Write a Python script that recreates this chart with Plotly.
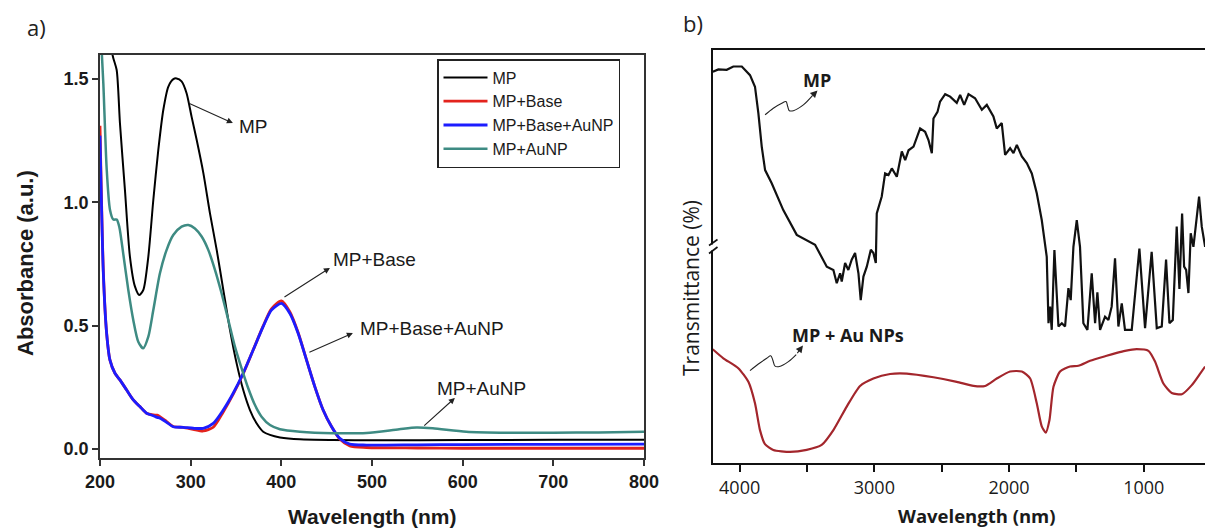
import plotly.graph_objects as go

W, H = 1205, 528

# ---------------- Panel a) UV-Vis absorbance ----------------
legend_names = ["MP", "MP+Base", "MP+Base+AuNP", "MP+AuNP"]
uv_colors = ["#000000", "#e3231d", "#1c1cff", "#3e8b83"]

wl_mp = [200, 208, 214.7, 218.4, 222, 227.5, 233, 238.6, 243.4, 247.8, 253.3, 258.8, 264.3,
         269.8, 275.4, 280.9, 284.5, 290, 295.5, 301, 306.6, 314, 321.3, 328.7, 336, 343.4,
         350.7, 358, 365.4, 372.7, 380, 387.5, 398.5, 420.5, 457, 500, 600, 700, 800]
abs_mp = [1.75, 1.68, 1.584, 1.536, 1.32, 1.05, 0.78, 0.658, 0.624, 0.645, 0.78, 1.009, 1.212,
          1.374, 1.469, 1.499, 1.502, 1.49, 1.442, 1.347, 1.253, 1.118, 0.955, 0.807, 0.645, 0.482,
          0.347, 0.239, 0.158, 0.104, 0.070, 0.057, 0.047, 0.039, 0.036, 0.035, 0.036, 0.037, 0.037]

wl_base = [200, 203.7, 207.3, 211, 216.5, 222, 229.4, 236.7, 244, 251.4, 258.8, 263, 266.1,
           273.5, 280.8, 291.8, 302.8, 313.9, 324.9, 335.9, 346.9, 357.9, 368.9, 379.9, 389.1,
           400.1, 409.3, 418.5, 427.7, 436.9, 446.1, 455.3, 464.5, 475.5, 494, 550, 600, 700, 800]
abs_base = [1.31, 0.72, 0.47, 0.36, 0.307, 0.28, 0.239, 0.199, 0.172, 0.145, 0.138, 0.137, 0.131,
            0.111, 0.091, 0.088, 0.080, 0.073, 0.088, 0.150, 0.222, 0.305, 0.401, 0.498, 0.568,
            0.600, 0.556, 0.472, 0.362, 0.253, 0.158, 0.091, 0.040, 0.012, 0.006, 0.004, 0.003, 0.003, 0.003]
abs_base_au = [1.27, 0.71, 0.47, 0.36, 0.307, 0.28, 0.239, 0.199, 0.172, 0.145, 0.135, 0.128, 0.125,
               0.108, 0.090, 0.088, 0.084, 0.084, 0.104, 0.158, 0.226, 0.307, 0.401, 0.496, 0.563,
               0.590, 0.550, 0.469, 0.361, 0.253, 0.158, 0.091, 0.043, 0.020, 0.016, 0.017, 0.018, 0.019, 0.020]

wl_au = [200, 203.7, 207.3, 211, 214.7, 218.4, 221.3, 225.7, 231.2, 236.7, 242.2, 247.7, 253.3,
         258.8, 266.1, 273.5, 280.8, 290, 297.4, 304.7, 312.1, 319.4, 326.8, 334.1, 341.5, 348.8,
         356.2, 363.5, 370.9, 378.2, 387.5, 398.5, 420.5, 457, 494, 530, 549, 567, 604, 650, 700, 750, 800]
abs_au = [1.75, 1.48, 1.14, 0.97, 0.93, 0.93, 0.90, 0.79, 0.645, 0.523, 0.435, 0.408, 0.455,
          0.563, 0.712, 0.807, 0.867, 0.901, 0.908, 0.894, 0.861, 0.807, 0.726, 0.631, 0.523, 0.415,
          0.327, 0.246, 0.178, 0.131, 0.097, 0.080, 0.070, 0.064, 0.065, 0.080, 0.087, 0.084, 0.070,
          0.066, 0.066, 0.067, 0.070]

uv_x_ticks = [200, 300, 400, 500, 600, 700, 800]
uv_y_ticks = [0.0, 0.5, 1.0, 1.5]

# callouts in panel a: (label, text x, text y, arrow tail x, tail y, head x, head y)
uv_callouts = [
    ("MP", 369.8, 1.309, 297, 1.403, 346.6, 1.321),
    ("MP+Base", 503, 0.766, 401.8, 0.612, 453.6, 0.734),
    ("MP+Base+AuNP", 566, 0.490, 429.3, 0.389, 478.9, 0.470),
    ("MP+AuNP", 621, 0.247, 556, 0.089, 591.4, 0.207),
]

# ---------------- Panel b) FTIR transmittance ----------------
ir_wn_mp = [4199, 4158, 4096, 4047, 3984, 3923, 3886, 3861, 3836, 3811, 3762, 3676, 3576, 3502,
            3440, 3353, 3304, 3279, 3254, 3242, 3217, 3193, 3168, 3143, 3118, 3101, 3081, 3056,
            3026, 3007, 2989, 2982, 2945, 2920, 2895, 2870, 2833, 2796, 2771, 2746, 2709, 2660,
            2623, 2598, 2573, 2561, 2531, 2512, 2474, 2437, 2388, 2363, 2333, 2301, 2252, 2202,
            2165, 2116, 2091, 2054, 2029, 1992, 1967, 1942, 1905, 1868, 1831, 1794, 1757, 1720,
            1707, 1695, 1683, 1663, 1633, 1608, 1584, 1559, 1542, 1522, 1497, 1473, 1448, 1418,
            1386, 1361, 1344, 1324, 1287, 1262, 1238, 1213, 1188, 1163, 1139, 1089, 1032, 990,
            941, 903, 866, 834, 809, 784, 755, 735, 715, 700, 685, 668, 651, 631, 606, 589, 569, 544]
ir_t_mp = [94.7, 95.3, 95.2, 96.0, 96.0, 93.9, 91.1, 84.7, 76.6, 70.9, 67.7, 61.2, 55.2, 54.0,
           52.8, 47.5, 46.7, 43.5, 45.9, 43.9, 48.4, 46.7, 49.2, 50.8, 45.9, 39.4, 45.1, 47.5,
           51.6, 50.8, 48.4, 60.4, 64.5, 70.1, 69.7, 71.3, 69.3, 75.4, 73.3, 75.7, 76.6, 81.0,
           80.2, 78.2, 75.0, 83.4, 85.0, 87.5, 89.3, 88.7, 87.2, 89.1, 86.7, 89.3, 88.3, 85.5,
           86.7, 83.9, 81.0, 82.3, 74.6, 76.2, 75.0, 77.0, 74.2, 72.6, 70.1, 65.3, 58.8, 49.9,
           33.8, 37.8, 32.2, 51.5, 33.0, 33.8, 33.0, 42.3, 39.4, 52.3, 58.8, 52.3, 33.8, 32.2,
           45.9, 33.8, 41.3, 32.2, 35.4, 34.6, 37.8, 49.5, 33.0, 38.6, 32.2, 32.2, 51.9, 32.6,
           51.1, 32.6, 33.0, 49.2, 33.8, 34.6, 57.2, 42.1, 60.4, 47.5, 46.7, 41.1, 55.6, 52.3,
           60.4, 64.5, 57.2, 52.3]

ir_wn_au = [4200, 4121, 4010, 3935, 3886, 3849, 3812, 3750, 3626, 3502, 3391, 3304, 3205, 3106,
            3007, 2883, 2759, 2561, 2388, 2264, 2177, 2091, 1992, 1905, 1843, 1794, 1757, 1727,
            1700, 1670, 1621, 1547, 1485, 1398, 1275, 1200, 1139, 1052, 965, 916, 854, 792, 717,
            643, 581, 544]
ir_t_au = [27.5, 25.3, 22.9, 19.6, 14.4, 7.9, 4.5, 3.1, 2.6, 3.1, 4.3, 7.9, 13.6, 18.6,
           20.4, 21.5, 21.6, 20.7, 19.6, 18.6, 18.6, 20.4, 22.1, 22.1, 20.4, 14.4, 8.8, 7.3,
           10.3, 18.4, 22.1, 23.3, 23.5, 24.7, 25.9, 26.6, 27.1, 27.5, 27.1, 24.5, 19.2, 16.9, 16.6,
           18.8, 21.6, 23.3]

ir_x_ticks = [4000, 3000, 2000, 1000]

# squiggly callout arrows in panel b
sq_mp_x = [3811, 3750, 3687, 3656, 3643, 3631, 3601, 3527, 3458]
sq_mp_y = [84.3, 85.9, 87.1, 87.5, 86.3, 85.3, 85.3, 86.7, 89.0]
sq_mp_head = (3422, 90.2)
sq_mp_label = ("MP", 3425, 92.7)

sq_au_x = [3923, 3861, 3799, 3769, 3754, 3737, 3705, 3638, 3580]
sq_au_y = [22.3, 23.9, 25.3, 25.9, 24.9, 23.4, 23.3, 24.5, 26.2]
sq_au_head = (3530, 28.4)
sq_au_label = ("MP + Au NPs", 3196, 30.9)

# ---------------- Figure ----------------
def px(x):
    return x / W

def py(y):
    return 1 - y / H

fig = go.Figure()

uv_series = [(wl_mp, abs_mp, 2.0), (wl_base, abs_base, 2.8), (wl_base, abs_base_au, 2.8), (wl_au, abs_au, 2.5)]
for (xs, ys, lw), name, col in zip(uv_series, legend_names, uv_colors):
    fig.add_trace(go.Scatter(x=xs, y=ys, name=name, mode="lines",
                             line=dict(color=col, width=lw, shape="spline", smoothing=0.7),
                             xaxis="x", yaxis="y"))

fig.add_trace(go.Scatter(x=ir_wn_mp, y=ir_t_mp, mode="lines", showlegend=False,
                         line=dict(color="#111111", width=2.2), xaxis="x2", yaxis="y2"))
fig.add_trace(go.Scatter(x=ir_wn_au, y=ir_t_au, mode="lines", showlegend=False,
                         line=dict(color="#a3262c", width=2.2, shape="spline", smoothing=0.6),
                         xaxis="x2", yaxis="y2"))
for sx, sy in [(sq_mp_x, sq_mp_y), (sq_au_x, sq_au_y)]:
    fig.add_trace(go.Scatter(x=sx, y=sy, mode="lines", showlegend=False, hoverinfo="skip",
                             line=dict(color="#222222", width=1.1, shape="spline", smoothing=1.0),
                             xaxis="x2", yaxis="y2"))

annotations = []
arial = "Arial, Liberation Sans, sans-serif"
opens = "Open Sans, Noto Sans, sans-serif"

for label, tx, ty, ax_, ay_, hx, hy in uv_callouts:
    annotations.append(dict(x=hx, y=hy, ax=ax_, ay=ay_, xref="x", yref="y", axref="x", ayref="y",
                            text="", showarrow=True, arrowhead=2, arrowsize=1.1, arrowwidth=1.1,
                            arrowcolor="#222222"))
    annotations.append(dict(x=tx, y=ty, xref="x", yref="y", text=label, showarrow=False,
                            font=dict(family=arial, size=19, color="#1a1a1a"),
                            xanchor="center", yanchor="middle"))

for sx, sy, head, lab in [(sq_mp_x, sq_mp_y, sq_mp_head, sq_mp_label),
                          (sq_au_x, sq_au_y, sq_au_head, sq_au_label)]:
    annotations.append(dict(x=head[0], y=head[1], ax=sx[-1], ay=sy[-1], xref="x2", yref="y2",
                            axref="x2", ayref="y2", text="", showarrow=True, arrowhead=2,
                            arrowsize=1.3, arrowwidth=1.1, arrowcolor="#222222"))
    annotations.append(dict(x=lab[1], y=lab[2], xref="x2", yref="y2", text=lab[0], showarrow=False,
                            font=dict(family=opens, size=18, color="#1a1a1a", weight="bold"),
                            xanchor="center", yanchor="middle"))

# titles and panel letters
annotations += [
    dict(x=px(372), y=py(516), xref="paper", yref="paper", text="Wavelength (nm)", showarrow=False,
         font=dict(family=arial, size=21, color="#1a1a1a", weight="bold"), xanchor="center", yanchor="middle"),
    dict(x=px(25), y=py(263), xref="paper", yref="paper", text="Absorbance (a.u.)", showarrow=False,
         textangle=-90, font=dict(family=arial, size=22, color="#1a1a1a", weight="bold"),
         xanchor="center", yanchor="middle"),
    dict(x=px(977), y=py(515), xref="paper", yref="paper", text="Wavelength (nm)", showarrow=False,
         font=dict(family=opens, size=18.5, color="#1a1a1a", weight="bold"), xanchor="center", yanchor="middle"),
    dict(x=px(691), y=py(288), xref="paper", yref="paper", text="Transmittance (%)", showarrow=False,
         textangle=-90, font=dict(family=opens, size=21, color="#1a1a1a"),
         xanchor="center", yanchor="middle"),
    dict(x=px(36), y=py(27), xref="paper", yref="paper", text="a)", showarrow=False,
         font=dict(family=opens, size=22, color="#222222"), xanchor="center", yanchor="middle"),
    dict(x=px(693), y=py(23), xref="paper", yref="paper", text="b)", showarrow=False,
         font=dict(family=opens, size=22, color="#222222"), xanchor="center", yanchor="middle"),
]

# axis break marks on panel b's y axis
shapes = [
    dict(type="rect", xref="paper", yref="paper", x0=px(709), x1=px(717), y0=py(244.5), y1=py(250.5),
         fillcolor="white", line=dict(width=0), layer="above"),
    dict(type="line", xref="paper", yref="paper", x0=px(709), y0=py(245.5), x1=px(717.5), y1=py(239.5),
         line=dict(color="#111111", width=1.6), layer="above"),
    dict(type="line", xref="paper", yref="paper", x0=px(709), y0=py(253.5), x1=px(717.5), y1=py(247.0),
         line=dict(color="#111111", width=1.6), layer="above"),
]

fig.update_layout(
    width=W, height=H, autosize=False,
    margin=dict(l=0, r=0, t=0, b=0, autoexpand=False),
    paper_bgcolor="white", plot_bgcolor="white",
    showlegend=True,
    legend=dict(x=px(437), y=py(59), xanchor="left", yanchor="top",
                font=dict(family=arial, size=16, color="#1a1a1a"),
                bordercolor="#222222", borderwidth=1.5, bgcolor="white",
                tracegroupgap=0, itemwidth=44, entrywidth=150, entrywidthmode="pixels"),
    xaxis=dict(domain=[px(100), px(644)], range=[200, 800], tickvals=uv_x_ticks,
               ticks="outside", ticklen=6, tickwidth=1.5, tickcolor="#333333",
               showline=True, linecolor="#333333", linewidth=1.6, mirror=True,
               showgrid=False, zeroline=False, ticklabelstandoff=1, automargin=False,
               tickfont=dict(family=arial, size=18, color="#1a1a1a", weight="bold"), anchor="y"),
    yaxis=dict(domain=[py(458), py(54.7)], range=[-0.0365, 1.598], tickvals=uv_y_ticks,
               tickformat=".1f", automargin=False,
               ticks="outside", ticklen=6, tickwidth=1.5, tickcolor="#333333",
               showline=True, linecolor="#333333", linewidth=1.6, mirror=True,
               showgrid=False, zeroline=False,
               tickfont=dict(family=arial, size=18, color="#1a1a1a", weight="bold"), anchor="x"),
    xaxis2=dict(domain=[px(712.7), 1.0], range=[4200, 545], tickvals=ir_x_ticks,
                ticks="outside", ticklen=7, tickwidth=1.5, tickcolor="#111111",
                minor=dict(dtick=500, tick0=0, ticks="outside", ticklen=7, tickwidth=1.5, tickcolor="#111111"),
                showline=True, linecolor="#111111", linewidth=2, mirror=True, automargin=False,
                showgrid=False, zeroline=False, ticklabelstandoff=1,
                tickfont=dict(family=opens, size=18, color="#1a1a1a"), anchor="y2"),
    yaxis2=dict(domain=[py(462.7), py(50)], range=[0, 100], showticklabels=False, ticks="",
                showline=True, linecolor="#111111", linewidth=2, mirror=False, automargin=False,
                showgrid=False, zeroline=False, anchor="x2"),
    annotations=annotations,
    shapes=shapes,
)

post = ("document.body.style.margin='0';document.body.style.padding='0';"
        "document.body.style.overflow='hidden';"
        "var gd=document.getElementById('{plot_id}');"
        "gd.style.width='1205px';gd.style.height='528px';"
        "Plotly.relayout(gd,{width:1205,height:528});")

fig.write_html("out.html", post_script=post, config={"responsive": False, "displayModeBar": False})
